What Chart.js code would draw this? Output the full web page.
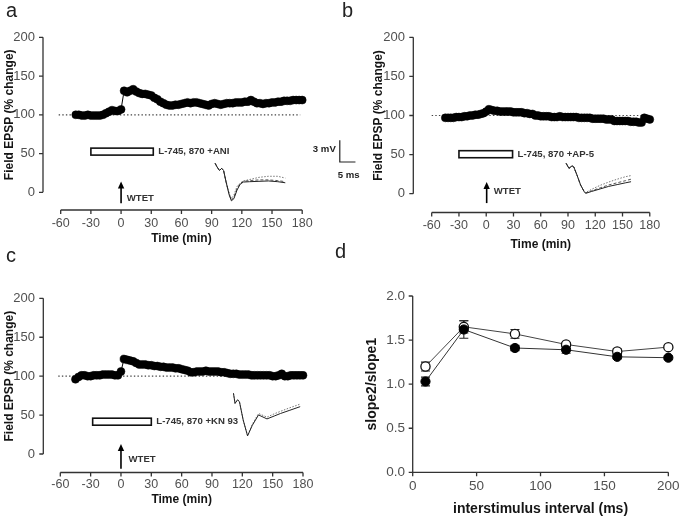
<!DOCTYPE html>
<html><head><meta charset="utf-8">
<script src="https://cdn.jsdelivr.net/npm/chart.js@4.4.0/dist/chart.umd.min.js"></script>
<style>
html,body{margin:0;padding:0;background:#fff;}
#wrap{position:relative;width:685px;height:518px;overflow:hidden;font-family:"Liberation Sans",Arial,sans-serif;}
canvas{position:absolute;left:0;top:0;}
.lbl{position:absolute;font-size:20px;line-height:20px;color:#222;}
</style></head><body>
<div id="wrap">
<canvas id="ca" width="685" height="518"></canvas>
<canvas id="cb" width="685" height="518"></canvas>
<canvas id="cc" width="685" height="518"></canvas>
<canvas id="cd" width="685" height="518"></canvas>
<div class="lbl" style="left:6px;top:0px">a</div>
<div class="lbl" style="left:342px;top:0px">b</div>
<div class="lbl" style="left:6px;top:245px">c</div>
<div class="lbl" style="left:335px;top:241px">d</div>
</div>
<script>
// ---------- data ----------
const times = [-45,-42,-39,-36,-33,-30,-27,-24,-21,-18,-15,-12,-9,-6,-3,0,
  3,6,9,12,15,18,21,24,27,30,33,36,39,42,45,48,51,54,57,60,63,66,69,72,75,78,81,84,87,90,
  93,96,99,102,105,108,111,114,117,120,123,126,129,132,135,138,141,144,147,150,
  153,156,159,162,165,168,171,174,177,180];
const epspA = [100,100,99,99,100,99,99,99,99,100,102,104,106,105,105,107,
  131,129,131,133,130,128,127,127,126,125,
  122,120,117,115,113,112,112,113,113,114,
  115,116,115,116,116,115,114,113,112,114,
  115,114,113,114,115,115,115,116,116,116,
  117,117,119,117,115,115,114,115,115,116,
  116,117,117,118,118,118,119,119,119,119];
const epspB = [97,97,97,97,98,98,98,99,99,100,100,101,101,102,103,105,
  108,107,106,106,105,105,105,105,105,104,
  104,104,104,103,103,102,102,100,100,99,
  99,99,99,98,98,98,99,98,98,98,
  98,98,98,97,97,97,97,97,96,96,
  96,96,96,95,95,95,93,93,93,93,
  93,93,92,92,92,91,91,97,96,95];
const epspC = [96,99,101,101,100,100,101,101,101,102,102,102,102,101,101,106,
  122,121,120,119,117,115,115,115,114,114,
  113,113,112,112,111,111,111,110,110,109,
  108,107,105,105,106,106,106,107,106,106,
  106,106,105,105,104,103,103,103,102,102,
  102,102,101,101,101,101,101,101,101,100,
  100,101,103,100,100,101,101,101,101,101];

// inset field EPSP traces (ms, mV relative to trace start)
const traceA_t = [0,0.6,1.4,2.1,2.7,3.5,4.5,5.2,6,7,8,9,11,14,17,20,22.4];
const traceA_1 = [0,-0.5,-1.0,-0.7,-1.0,-2.6,-4.4,-5.2,-4.9,-3.7,-2.9,-2.6,-2.55,-2.5,-2.45,-2.55,-2.7];
const traceA_2 = [0,-0.5,-1.0,-0.7,-1.0,-2.6,-4.3,-5.1,-4.7,-3.5,-2.8,-2.5,-2.4,-2.3,-2.3,-2.4,-2.55];
const traceA_3 = [0,-0.5,-1.0,-0.7,-1.0,-2.5,-4.2,-4.9,-4.4,-3.2,-2.75,-2.45,-2.25,-1.95,-1.8,-1.8,-2.05];
const traceB_t = [0,1,2.1,2.7,3.8,5.1,6.4,6.9,9,12,15,18,21,22.9];
const traceB_1 = [0,-0.7,-0.35,-0.5,-1.6,-3.0,-3.95,-4.16,-3.9,-3.55,-3.2,-2.95,-2.7,-2.55];
const traceB_2 = [0,-0.7,-0.35,-0.5,-1.6,-3.0,-3.95,-4.1,-3.8,-3.4,-3.0,-2.7,-2.4,-2.2];
const traceB_3 = [0,-0.7,-0.35,-0.5,-1.6,-3.0,-3.9,-4.05,-3.6,-3.05,-2.6,-2.2,-1.85,-1.7];
const traceC_t = [0,0.5,1.3,1.9,3.1,4.5,6,8,10.7,13,15,18,21.3];
const traceC_1 = [0,-1.4,-0.9,-1.15,-3.7,-5.9,-4.45,-3.0,-3.55,-3.15,-2.8,-2.35,-1.85];
const traceC_2 = [0,-1.4,-0.9,-1.15,-3.7,-5.9,-4.3,-2.8,-3.3,-2.85,-2.5,-2.0,-1.5];

// paired-pulse facilitation
const isi = [10,40,80,120,160,200];
const ppfFilled = [1.03,1.62,1.41,1.39,1.31,1.30];
const ppfFilledErr = [0.05,0.10,0.03,0.04,0.02,0.02];
const ppfOpen = [1.20,1.65,1.57,1.45,1.37,1.42];
const ppfOpenErr = [0.05,0.07,0.05,0.02,0.03,0.02];

// tick labels
const xTicksTime = [-60,-30,0,30,60,90,120,150,180];
const yTicksEpsp = [0,50,100,150,200];
const xTicksIsi = [0,50,100,150,200];
const yTicksPpf = [0,0.5,1,1.5,2];

// ---------- drawing ----------
const FONT = '"Liberation Sans", Arial, sans-serif';
const TICK = '#505050', TITLE = '#151515';
const ANN = 'bold 9.6px ' + FONT;

const decor = {
  id: 'decor',
  beforeDatasetsDraw(chart, _a, o) {
    if (!o || !o.on) return;
    const c = chart.ctx, ca = chart.chartArea, X = chart.scales.x, Y = chart.scales.y;
    c.save();
    c.strokeStyle = '#333'; c.lineWidth = 1.3; c.setLineDash([]);
    const ax = ca.left + o.yAxisOff, ay = ca.bottom + o.xAxisOff;
    const yv = Y.ticks.map(t => t.value), xv = X.ticks.map(t => t.value);
    c.beginPath();
    c.moveTo(ax, Y.getPixelForValue(yv[0])); c.lineTo(ax, Y.getPixelForValue(yv[yv.length - 1]));
    yv.forEach(v => { const p = Y.getPixelForValue(v); c.moveTo(ax, p); c.lineTo(ax - o.tick, p); });
    c.moveTo(X.getPixelForValue(xv[0]), ay); c.lineTo(X.getPixelForValue(xv[xv.length - 1]), ay);
    xv.forEach(v => { const p = X.getPixelForValue(v); c.moveTo(p, ay); c.lineTo(p, ay + o.tick); });
    c.stroke();
    if (o.base) {
      c.beginPath(); c.setLineDash([1.4, 2.2]); c.strokeStyle = '#444'; c.lineWidth = 1.2;
      const py = Y.getPixelForValue(o.base.y);
      c.moveTo(X.getPixelForValue(o.base.x0), py); c.lineTo(X.getPixelForValue(o.base.x1), py);
      c.stroke(); c.setLineDash([]);
    }
    if (o.bar) {
      const b = o.bar;
      const x0 = X.getPixelForValue(b.x0), x1 = X.getPixelForValue(b.x1);
      const y0 = Y.getPixelForValue(b.y0), y1 = Y.getPixelForValue(b.y1);
      c.fillStyle = '#fff'; c.fillRect(x0, y1, x1 - x0, y0 - y1);
      c.strokeStyle = '#111'; c.lineWidth = 1.6; c.strokeRect(x0, y1, x1 - x0, y0 - y1);
      c.fillStyle = '#333'; c.font = ANN; c.textBaseline = 'middle'; c.textAlign = 'left';
      c.fillText(b.label, x1 + 5, (y0 + y1) / 2);
    }
    if (o.arrow) {
      const a = o.arrow, px = X.getPixelForValue(a.x);
      const yb = Y.getPixelForValue(a.y0), yt = Y.getPixelForValue(a.y1);
      c.strokeStyle = '#000'; c.lineWidth = 1.6;
      c.beginPath(); c.moveTo(px, yb); c.lineTo(px, yt + 5); c.stroke();
      c.fillStyle = '#000'; c.beginPath(); c.moveTo(px, yt); c.lineTo(px - 3.2, yt + 7); c.lineTo(px + 3.2, yt + 7); c.closePath(); c.fill();
      c.fillStyle = '#333'; c.font = ANN; c.textBaseline = 'middle'; c.textAlign = 'left';
      c.fillText(a.label, X.getPixelForValue(a.lx), Y.getPixelForValue(a.ly));
    }
    if (o.scaleBar) {
      const s = o.scaleBar, TX = chart.scales.tx, TY = chart.scales.ty;
      const x0 = TX.getPixelForValue(s.t), x1 = TX.getPixelForValue(s.t + s.dt);
      const y0 = TY.getPixelForValue(s.v), y1 = TY.getPixelForValue(s.v + s.dv);
      c.strokeStyle = '#222'; c.lineWidth = 1.2;
      c.beginPath(); c.moveTo(x0, y1); c.lineTo(x0, y0); c.lineTo(x1, y0); c.stroke();
      c.fillStyle = '#222'; c.font = ANN; c.textBaseline = 'middle';
      c.textAlign = 'right'; c.fillText(s.dv + ' mV', x0 - 4, (y0 + y1) / 2 - 2);
      c.textAlign = 'center'; c.fillText(s.dt + ' ms', (x0 + x1) / 2 + 1, y0 + 13);
    }
    if (o.errors) {
      c.strokeStyle = '#222'; c.lineWidth = 1.1;
      chart.data.datasets.forEach(ds => {
        if (!ds.errors) return;
        ds.data.forEach((p, j) => {
          const px = X.getPixelForValue(p.x);
          const yh = Y.getPixelForValue(p.y + ds.errors[j]), yl = Y.getPixelForValue(p.y - ds.errors[j]);
          c.beginPath();
          c.moveTo(px, yh); c.lineTo(px, yl);
          c.moveTo(px - 4.5, yh); c.lineTo(px + 4.5, yh);
          c.moveTo(px - 4.5, yl); c.lineTo(px + 4.5, yl);
          c.stroke();
        });
      });
    }
    c.restore();
  }
};
Chart.register(decor);

function pts(xs, ys) { return xs.map((x, i) => ({ x: x, y: ys[i] })); }

function axisCfg(o) {
  return {
    type: 'linear', position: o.pos, min: o.min, max: o.max,
    afterBuildTicks: s => { s.ticks = o.ticks.map(v => ({ value: v })); },
    afterFit: o.pos === 'bottom' ? (s => { s.height = o.size; }) : (s => { s.width = o.size; }),
    grid: { display: false, drawTicks: false, tickLength: 0 },
    border: { display: false },
    ticks: { padding: o.pad, color: TICK, font: { family: FONT, size: o.fs }, autoSkip: false, maxRotation: 0,
             callback: o.fmt || (v => String(v)) },
    title: { display: true, text: o.title, color: TITLE, font: { family: FONT, size: o.tfs, weight: 'bold' }, padding: 0 }
  };
}

function make(id, L, datasets, scalesExtra, deco, xAx, yAx) {
  const scales = Object.assign({ x: axisCfg(xAx), y: axisCfg(yAx) }, scalesExtra);
  return new Chart(document.getElementById(id), {
    type: 'scatter',
    data: { datasets: datasets },
    options: {
      responsive: false, animation: false, events: [],
      layout: { padding: { left: L.l - yAx.size, top: L.t, right: 685 - L.r, bottom: Math.max(0, 518 - L.b - xAx.size) } },
      plugins: { legend: { display: false }, tooltip: { enabled: false }, decor: deco },
      scales: scales
    }
  });
}

function mainSet(vals) {
  return { data: pts(times, vals), showLine: true, borderColor: '#000', borderWidth: 1,
    pointRadius: 4, pointBackgroundColor: '#000', pointBorderColor: '#000', pointBorderWidth: 0.5,
    xAxisID: 'x', yAxisID: 'y', clip: false };
}
function traceSet(t, v, color, dash, w) {
  return { data: pts(t, v), showLine: true, borderColor: color, borderDash: dash, borderWidth: w,
    pointRadius: 0, xAxisID: 'tx', yAxisID: 'ty', clip: false };
}
function hidden(tx, ty) {
  return { tx: { type: 'linear', display: false, position: 'bottom', min: tx[0], max: tx[1] },
           ty: { type: 'linear', display: false, position: 'left', min: ty[0], max: ty[1] } };
}
function timeAxes(L) {
  return [
    { pos: 'bottom', min: -60, max: 180, ticks: xTicksTime, size: L.hx, pad: L.xpad, fs: 12.5, tfs: 12, title: 'Time (min)' },
    { pos: 'left', min: 0, max: 200, ticks: yTicksEpsp, size: L.wy, pad: L.ypad, fs: 13, tfs: 12, title: 'Field EPSP (% change)' }
  ];
}

// panel a
const LA = { l: 60.7, r: 302.2, t: 37.3, b: 192.3, wy: 57.9, hx: 53.2, ypad: 25.7, xpad: 23.5 };
make('ca', LA,
  [mainSet(epspA), traceSet(traceA_t, traceA_1, '#222', [], 1), traceSet(traceA_t, traceA_2, '#444', [3, 2], 0.9), traceSet(traceA_t, traceA_3, '#666', [1.5, 1.5], 0.9)],
  hidden([-49.3, 27.8], [-4.02, 17.45]),
  { on: true, yAxisOff: -17.7, xAxisOff: 17.7, tick: 4,
    base: { y: 100, x0: -62, x1: 178 },
    bar: { x0: -30, x1: 32, y0: 48, y1: 57, label: 'L-745, 870 +ANI' },
    arrow: { x: 0, y0: -14, y1: 14, lx: 5.7, ly: -7.7, label: 'WTET' },
    scaleBar: { t: 39.8, v: 0.18, dt: 5, dv: 3 } },
  ...timeAxes(LA));

// panel b
const LB = { l: 431.7, r: 672.5, t: 37.3, b: 193.7, wy: 59.9, hx: 58.5, ypad: 26.7, xpad: 24.8 };
make('cb', LB,
  [mainSet(epspB), traceSet(traceB_t, traceB_1, '#222', [], 1), traceSet(traceB_t, traceB_2, '#444', [3, 2], 0.9), traceSet(traceB_t, traceB_3, '#666', [1.5, 1.5], 0.9)],
  hidden([-47.4, 29.5], [-4.21, 17.45]),
  { on: true, yAxisOff: -18.4, xAxisOff: 18.8, tick: 4,
    base: { y: 100, x0: -60, x1: 178 },
    bar: { x0: -30, x1: 29, y0: 46, y1: 55, label: 'L-745, 870 +AP-5' },
    arrow: { x: 0.5, y0: -12, y1: 15, lx: 8.3, ly: 2.6, label: 'WTET' } },
  ...timeAxes(LB));

// panel c
const LC = { l: 60.3, r: 303, t: 298.3, b: 454, wy: 58, hx: 53.2, ypad: 25.3, xpad: 23.5 };
make('cc', LC,
  [mainSet(epspC), traceSet(traceC_t, traceC_1, '#222', [], 1), traceSet(traceC_t, traceC_2, '#666', [1.5, 1.5], 0.9)],
  hidden([-55.3, 22.2], [-8.41, 13.16]),
  { on: true, yAxisOff: -17, xAxisOff: 18.5, tick: 4,
    base: { y: 100, x0: -62, x1: 180 },
    bar: { x0: -28, x1: 30, y0: 37, y1: 46, label: 'L-745, 870 +KN 93' },
    arrow: { x: 0, y0: -19, y1: 13, lx: 7.5, ly: -7, label: 'WTET' } },
  ...timeAxes(LC));

// panel d
const LD = { l: 412.7, r: 673.3, t: 296, b: 472.3 };
make('cd', LD,
  [
    { data: pts(isi, ppfFilled), errors: ppfFilledErr, showLine: true, borderColor: '#333', borderWidth: 1,
      pointRadius: 4.6, pointBackgroundColor: '#000', pointBorderColor: '#000', pointBorderWidth: 1, clip: false },
    { data: pts(isi, ppfOpen), errors: ppfOpenErr, showLine: true, borderColor: '#444', borderWidth: 1,
      pointRadius: 4.6, pointBackgroundColor: '#fff', pointBorderColor: '#111', pointBorderWidth: 1.3, clip: false }
  ],
  {},
  { on: true, yAxisOff: 0, xAxisOff: 0, tick: 4, errors: true },
  { pos: 'bottom', min: 0, max: 200, ticks: xTicksIsi, size: 45.7, pad: 5.4, fs: 13.5, tfs: 14, title: 'interstimulus interval (ms)' },
  { pos: 'left', min: 0, max: 2, ticks: yTicksPpf, size: 49.4, pad: 7.7, fs: 13.5, tfs: 14, title: 'slope2/slope1', fmt: v => v.toFixed(1) });
</script>
</body></html>
